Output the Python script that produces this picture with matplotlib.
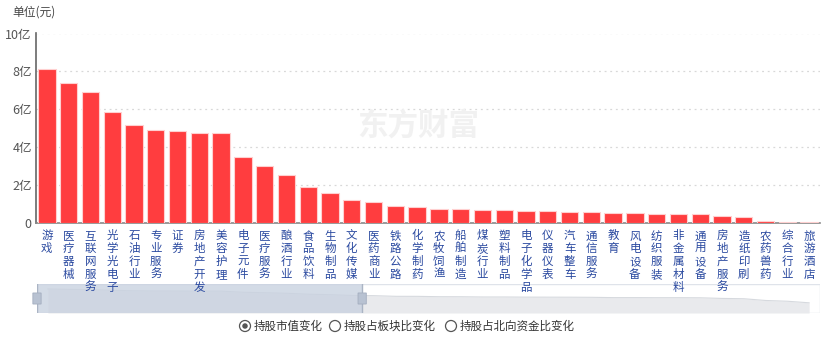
import numpy as np
import matplotlib.pyplot as plt
from matplotlib.patches import Rectangle, FancyBboxPatch, Ellipse

plt.rcParams['font.family'] = ['Noto Sans CJK SC', 'DejaVu Sans']

# 北向资金持股行业分布（单位：亿元）
industries = ['游戏', '医疗器械', '互联网服务', '光学光电子', '石油行业', '专业服务', '证券',
              '房地产开发', '美容护理', '电子元件', '医疗服务', '酿酒行业', '食品饮料', '生物制品',
              '文化传媒', '医药商业', '铁路公路', '化学制药', '农牧饲渔', '船舶制造', '煤炭行业',
              '塑料制品', '电子化学品', '仪器仪表', '汽车整车', '通信服务', '教育', '风电设备',
              '纺织服装', '非金属材料', '通用设备', '房地产服务', '造纸印刷', '农药兽药', '综合行业',
              '旅游酒店']
values = [8.10, 7.39, 6.91, 5.83, 5.14, 4.91, 4.84, 4.71, 4.71, 3.44, 2.99, 2.53, 1.86, 1.58,
          1.19, 1.10, 0.85, 0.84, 0.72, 0.71, 0.64, 0.64, 0.60, 0.59, 0.58, 0.55, 0.48, 0.48,
          0.46, 0.46, 0.44, 0.32, 0.27, 0.09, 0.05, 0.01]
yticks = [0, 2, 4, 6, 8, 10]
ytick_labels = ['0', '2亿', '4亿', '6亿', '8亿', '10亿']
legend_items = ['持股市值变化', '持股占板块比变化', '持股占北向资金比变化']

W, H = 830, 337
fig = plt.figure(figsize=(W / 100, H / 100), dpi=100)

def px_axes(x0, y0, x1, y1):
    return fig.add_axes([x0 / W, 1 - y1 / H, (x1 - x0) / W, (y1 - y0) / H])

# data zoom slider (below the chart, labels may run over it)
sx = px_axes(37, 284, 820, 313)
sx.set_zorder(1)
sx.set_xlim(-0.5, len(industries) - 0.5)
sx.set_ylim(0, 29)
sx.axis('off')
x = np.arange(len(industries))
vmax = max(values)
shadow = [7 + 17 * (v / vmax) ** 0.25 for v in values]
sx.add_patch(Rectangle((-0.5, 0), len(industries), 29, facecolor='white',
                       edgecolor='#dfe3ea', linewidth=1, zorder=0))
sx.fill_between(x, 0, shadow, color='#e9eaed', linewidth=0, zorder=1)
sx.plot(x, shadow, color='#d6d9de', linewidth=0.8, zorder=2)
win_end = 14.45
sx.add_patch(Rectangle((-0.5, 0), win_end + 0.5, 29, facecolor='#c9d2e0', alpha=0.8,
                       edgecolor='none', zorder=3))
for hx in (-0.5, win_end):
    sx.plot([hx, hx], [0, 29], color='#aab4c4', linewidth=1, zorder=4)
    sx.add_patch(FancyBboxPatch((hx - 0.17, 9), 0.34, 11, boxstyle='round,pad=0.02',
                                facecolor='#b8c2d2', edgecolor='#a4aec0', linewidth=0.6,
                                zorder=5, clip_on=False))

# main bar chart
ax = px_axes(36, 33.5, 820, 222.5)
ax.set_zorder(2)
ax.patch.set_visible(False)
ax.bar(x, values, width=0.8, color='#ff3d3f', edgecolor='#ffd0d0', linewidth=0.8, zorder=3)
ax.set_xlim(-0.5, len(industries) - 0.5)
ax.set_ylim(0, 10)
ax.set_yticks(yticks)
ax.set_yticklabels(ytick_labels, fontsize=9, color='#555555')
ax.set_xticks(x)
ax.set_xticklabels(['\n'.join(s) for s in industries], fontsize=8.3, color='#2b4aa0',
                   linespacing=0.98, va='top')
ax.tick_params(axis='both', length=0)
ax.tick_params(axis='x', pad=5)
ax.tick_params(axis='y', pad=3)
for s in ['top', 'right']:
    ax.spines[s].set_visible(False)
ax.spines['left'].set_color('#666666')
ax.spines['bottom'].set_color('#888888')
ax.spines['left'].set_linewidth(1.2)
ax.spines['bottom'].set_linewidth(1.2)
ax.grid(axis='y', linestyle=(0, (1.5, 3)), color='#d8d8d8', linewidth=0.9, zorder=0)
ax.set_axisbelow(True)

fig.text(12 / W, 1 - 12 / H, '单位(元)', fontsize=8.5, color='#444444', va='center', ha='left')

# watermark
ax.text(0.487, 0.515, '东方财富', transform=ax.transAxes, fontsize=22, fontweight='bold',
        color='#f1f1f1', ha='center', va='center', zorder=1)

# legend (radio buttons)
lx = [245, 335, 451]
cy = 1 - 326 / H
for i, (px, label) in enumerate(zip(lx, legend_items)):
    fig.patches.append(Ellipse((px / W, cy), 11 / W, 11 / H, transform=fig.transFigure,
                               facecolor='white', edgecolor='#555555', linewidth=0.9))
    if i == 0:
        fig.patches.append(Ellipse((px / W, cy), 5.5 / W, 5.5 / H, transform=fig.transFigure,
                                   facecolor='#555555', edgecolor='none'))
    fig.text((px + 9) / W, cy, label, fontsize=8.3, color='#333333', va='center', ha='left')

plt.savefig('out.png', dpi=100)
